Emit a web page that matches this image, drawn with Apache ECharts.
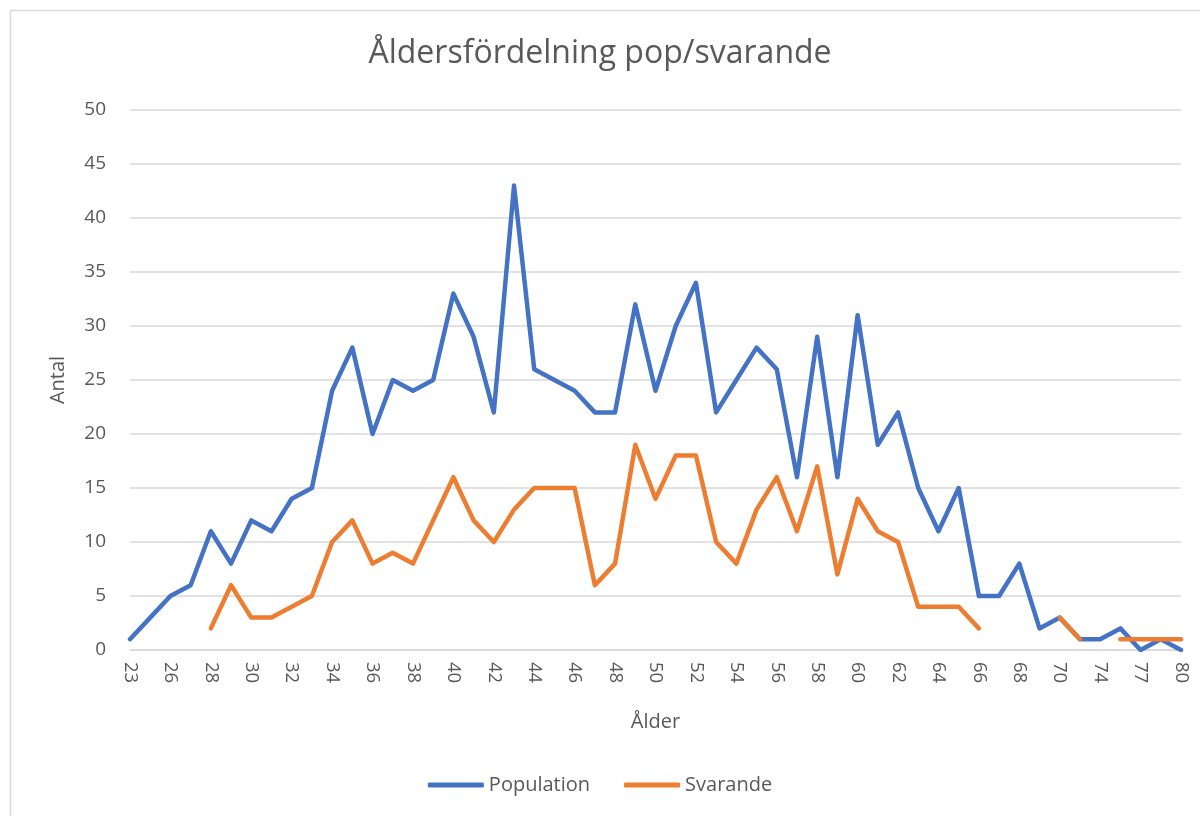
<!DOCTYPE html>
<html><head><meta charset="utf-8">
<script src="https://cdn.jsdelivr.net/npm/echarts@6/dist/echarts.min.js"></script>
<style>html,body{margin:0;padding:0;background:#fff}#c{width:1200px;height:816px}</style>
</head><body><div id="c"></div>
<script>
const ages = [23,24,26,27,28,29,30,31,32,33,34,35,36,37,38,39,40,41,42,43,44,45,46,47,48,49,50,51,52,53,54,55,56,57,58,59,60,61,62,63,64,65,66,67,68,69,70,72,74,76,77,78,80];
const population = [1,3,5,6,11,8,12,11,14,15,24,28,20,25,24,25,33,29,22,43,26,25,24,22,22,32,24,30,34,22,25,28,26,16,29,16,31,19,22,15,11,15,5,5,8,2,3,1,1,2,0,1,0];
const svarande = [null,null,null,null,2,6,3,3,4,5,10,12,8,9,8,12,16,12,10,13,15,15,15,6,8,19,14,18,18,10,8,13,16,11,17,7,14,11,10,4,4,4,2,null,null,null,3,1,null,1,1,1,1];
const yTicks = {min:0, max:50, interval:5};

const chart = echarts.init(document.getElementById('c'));
const grey = '#595959';
const FONT = 'Open Sans';
chart.setOption({
  animation:false,
  backgroundColor:'#fff',
  graphic:[{type:'rect',shape:{x:10.5,y:10.5,width:1200,height:820},style:{fill:'none',stroke:'#d9d9d9',lineWidth:1.5},silent:true}],
  title:{text:'Åldersfördelning pop/svarande',left:'center',top:33,
    textStyle:{color:grey,fontFamily:FONT,fontWeight:'normal',fontSize:32}},
  grid:{left:130,right:19,top:110,bottom:166,containLabel:false},
  legend:{bottom:16,left:'center',itemWidth:56,itemHeight:5,itemGap:34,icon:'roundRect',
    textStyle:{color:grey,fontFamily:FONT,fontSize:20},
    data:['Population','Svarande']},
  xAxis:{type:'category',data:ages,boundaryGap:false,
    name:'Ålder',nameLocation:'middle',nameGap:62,
    nameTextStyle:{color:grey,fontFamily:FONT,fontSize:20},
    axisLine:{lineStyle:{color:'#d9d9d9',width:1.5}},axisTick:{show:false},
    axisLabel:{interval:1,rotate:-90,color:grey,fontFamily:FONT,fontSize:18.5,margin:12}},
  yAxis:{type:'value',min:yTicks.min,max:yTicks.max,interval:yTicks.interval,
    name:'Antal',nameLocation:'middle',nameGap:62,
    nameTextStyle:{color:grey,fontFamily:FONT,fontSize:20},
    axisLine:{show:false},axisTick:{show:false},
    axisLabel:{color:grey,fontFamily:FONT,fontSize:19,margin:24},
    splitLine:{lineStyle:{color:'#d9d9d9',width:1.5}}},
  series:[
    {name:'Population',type:'line',data:population,showSymbol:false,symbol:'none',
      lineStyle:{color:'#4472C4',width:4.5,cap:'round',join:'round'},itemStyle:{color:'#4472C4'},connectNulls:false},
    {name:'Svarande',type:'line',data:svarande,showSymbol:false,symbol:'none',
      lineStyle:{color:'#ED7D31',width:4.5,cap:'round',join:'round'},itemStyle:{color:'#ED7D31'},connectNulls:false}
  ]
});
</script></body></html>
